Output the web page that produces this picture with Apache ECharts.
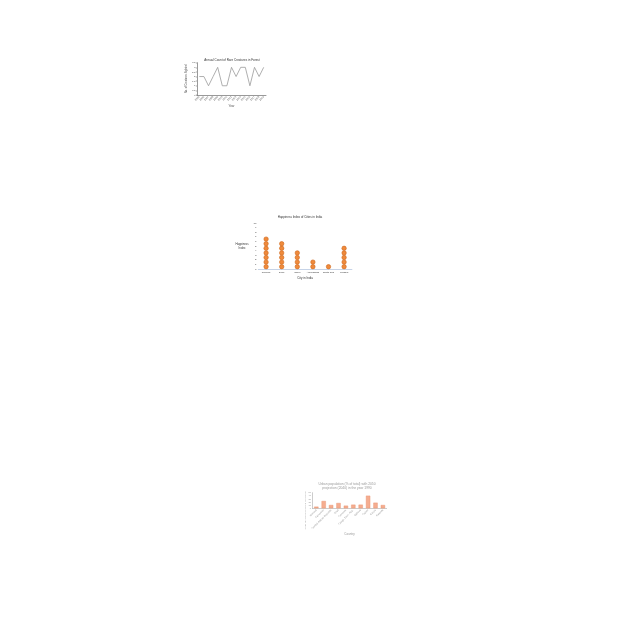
<!DOCTYPE html>
<html><head><meta charset="utf-8">
<script src="https://cdn.jsdelivr.net/npm/echarts@6/dist/echarts.min.js"></script>
<style>html,body{margin:0;padding:0;background:#fff}#c{width:640px;height:640px}</style>
</head><body><div id="c"></div>
<script>
// Chart 1: line
const years = ['2005','2006','2007','2008','2009','2010','2011','2012','2013','2014','2015','2016','2017','2018','2019'];
const sightings = [2,2,1,2,3,1,1,3,2,3,3,1,3,2,3];
const yTicks1 = {min:0, max:3.5, interval:0.5};

// Chart 2: dot plot
const cities = ['Chennai','Delhi','Jaipur','Ahmedabad','South Goa','Mumbai'];
const happiness = [7,6,4,2,1,5];

// Chart 3: bars
const countries = ['Burundi','Cameroon','Central African Republic','Chad','Comoros','Congo, Dem. Rep.','Djibouti','Gabon','Kenya','Rwanda'];
const urbanPct = [5.3,23.4,10.6,17,8.5,11.7,11.7,40.4,18,10.6];

const dots = [];
happiness.forEach((n,i)=>{ for(let k=0;k<n;k++) dots.push([i,k+0.5]); });

const F = 'Liberation Sans';
const chart = echarts.init(document.getElementById('c'));
chart.setOption({
  animation:false,
  textStyle:{fontFamily:F},
  title:[
    {text:'Annual Count of Rare Creatures in Forest', left:232, top:58.3, textAlign:'center', padding:0,
     textStyle:{fontSize:3, fontWeight:'normal', color:'#333', fontFamily:F}},
    {text:'Happiness Index of Cities in India', left:300, top:215.8, textAlign:'center', padding:0,
     textStyle:{fontSize:3, fontWeight:'normal', color:'#333', fontFamily:F}},
    {text:'Urban population (% of total) with 2050\nprojection (2040) in the year 1990', left:347, top:481.6, textAlign:'center', padding:0,
     textStyle:{fontSize:3.3, lineHeight:4.3, fontWeight:'normal', color:'#999', fontFamily:F}}
  ],
  grid:[
    {left:197, top:62.7, width:69, height:32.3},
    {left:258.3, top:223, width:93.6, height:46},
    {left:312.6, top:492.7, width:74, height:15.6}
  ],
  xAxis:[
    {gridIndex:0, type:'category', data:years, boundaryGap:true,
     name:'Year', nameLocation:'middle', nameGap:7.5, nameTextStyle:{fontSize:3, color:'#555'},
     axisLine:{lineStyle:{color:'#333', width:0.5}}, axisTick:{show:false},
     axisLabel:{fontSize:2.5, rotate:45, margin:1.5, color:'#555', interval:0}},
    {gridIndex:1, type:'category', data:cities, boundaryGap:true,
     name:'City in India', nameLocation:'middle', nameGap:8, nameTextStyle:{fontSize:3, color:'#333'},
     axisLine:{lineStyle:{color:'#9fb6d6', width:0.6}}, axisTick:{show:false},
     axisLabel:{fontSize:2.3, margin:2.5, color:'#333', interval:0}},
    {gridIndex:2, type:'category', data:countries, boundaryGap:true,
     name:'Country', nameLocation:'middle', nameGap:19, nameTextStyle:{fontSize:3, color:'#999'},
     axisLine:{lineStyle:{color:'#999', width:0.5}}, axisTick:{show:false},
     axisLabel:{fontSize:2.5, rotate:45, margin:1.5, color:'#999', interval:0}}
  ],
  yAxis:[
    {gridIndex:0, type:'value', min:yTicks1.min, max:yTicks1.max, interval:yTicks1.interval,
     name:'No. of Creatures Sighted', nameLocation:'middle', nameGap:9, nameTextStyle:{fontSize:2.6, color:'#555'},
     axisLine:{show:true, lineStyle:{color:'#333', width:0.5}}, axisTick:{show:true, length:1.2, lineStyle:{color:'#333', width:0.4}},
     splitLine:{show:false}, axisLabel:{fontSize:2.5, margin:1.5, color:'#555'}},
    {gridIndex:1, type:'value', min:0, max:10, interval:1,
     name:'Happiness\nIndex', nameLocation:'middle', nameRotate:0, nameGap:10,
     nameTextStyle:{fontSize:2.8, lineHeight:3.5, color:'#333', align:'center'},
     axisLine:{show:false}, axisTick:{show:false},
     splitLine:{show:false}, axisLabel:{fontSize:2.5, margin:2, color:'#333'}},
    {gridIndex:2, type:'value', min:0, max:50, interval:10,
     name:'Urban population (% of total population)', nameLocation:'middle', nameRotate:90, nameGap:6,
     nameMoveOverlap:false,
     nameTextStyle:{fontSize:2.2, color:'#999', padding:[0,20,0,0]},
     axisLine:{show:true, lineStyle:{color:'#999', width:0.5}}, axisTick:{show:false},
     splitLine:{show:false}, axisLabel:{fontSize:2.3, margin:1.5, color:'#999'}}
  ],
  series:[
    {type:'line', xAxisIndex:0, yAxisIndex:0, data:sightings, symbol:'none',
     lineStyle:{color:'#9a9a9a', width:0.8}},
    {type:'scatter', xAxisIndex:1, yAxisIndex:1, data:dots, symbolSize:4.4,
     itemStyle:{color:'#ef8a3c', borderColor:'#cf6418', borderWidth:0.6, opacity:1}},
    {type:'bar', xAxisIndex:2, yAxisIndex:2, data:urbanPct, barWidth:'58%',
     itemStyle:{color:'#f5ad90', borderColor:'#e98f6d', borderWidth:0.4}}
  ]
});
</script></body></html>
